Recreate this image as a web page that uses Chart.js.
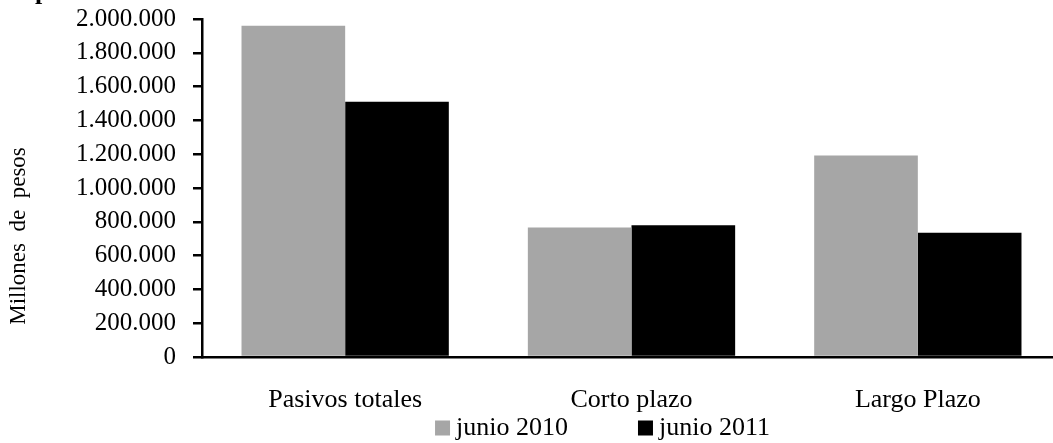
<!DOCTYPE html>
<html><head><meta charset="utf-8">
<script src="https://cdn.jsdelivr.net/npm/chart.js@4"></script>
<style>html,body{margin:0;padding:0;overflow:hidden;background:#fff;}#wrap{width:1062px;height:443px;position:relative}</style>
</head><body><div id="wrap"><canvas id="c" width="1062" height="443"></canvas></div>
<script>
const categories = ['Pasivos totales', 'Corto plazo', 'Largo Plazo'];
const seriesLabels = ['junio 2010', 'junio 2011'];
const junio2010 = [1960000, 767000, 1192000];
const junio2011 = [1510000, 779000, 735000];
const yMax = 2000000;
const yStep = 200000;
const yTitle = 'Millones  de  pesos';
const cutTitle = 'p';

const FONT = "'Liberation Serif','Times New Roman',serif";
const fmt = v => String(v).replace(/\B(?=(\d{3})+(?!\d))/g, '.');

const customText = {
  id: 'customText',
  afterDraw(chart) {
    const ctx = chart.ctx, a = chart.chartArea;
    ctx.save();
    ctx.fillStyle = '#000';
    ctx.font = '23px ' + FONT;
    ctx.translate(19, (a.top + a.bottom) / 2 + 48);
    ctx.rotate(-Math.PI / 2);
    ctx.textAlign = 'center';
    ctx.textBaseline = 'middle';
    ctx.fillText(yTitle, 0, 0);
    ctx.restore();
    ctx.save();
    ctx.fillStyle = '#000';
    ctx.font = 'bold 26px ' + FONT;
    ctx.textBaseline = 'alphabetic';
    ctx.fillText(cutTitle, 35, -1);
    ctx.restore();
  }
};
const legendPlace = {
  id: 'legendPlace',
  afterLayout(chart) {
    const lg = chart.legend; if (!lg) return;
    const pad = lg.options.labels.padding;
    lg.top = 415 - pad; lg.bottom = chart.height;
    const shift = 606 - (lg.left + lg.right) / 2;
    lg.left += shift; lg.right += shift;
  }
};

new Chart(document.getElementById('c'), {
  type: 'bar',
  data: {
    labels: categories,
    datasets: [
      { label: seriesLabels[0], data: junio2010, backgroundColor: '#a6a6a6', borderWidth: 0 },
      { label: seriesLabels[1], data: junio2011, backgroundColor: '#000000', borderWidth: 0 }
    ]
  },
  options: {
    responsive: false,
    animation: false,
    devicePixelRatio: 1,
    layout: { padding: { top: 19, right: 1, left: 0, bottom: 0 } },
    datasets: { bar: { categoryPercentage: 0.724, barPercentage: 1.0 } },
    plugins: {
      tooltip: { enabled: false },
      title: { display: false },
      legend: {
        position: 'bottom',
        maxHeight: 1,
        labels: { color: '#000', font: { family: FONT, size: 26 }, usePointStyle: true, pointStyle: 'rect', boxWidth: 1, boxHeight: 15, padding: 77 }
      }
    },
    scales: {
      x: {
        afterFit(s) { s.height = 85; },
        grid: { display: false },
        border: { display: true, color: '#000', width: 2.5 },
        ticks: { color: '#000', font: { family: FONT, size: 26 }, padding: 20, maxRotation: 0 }
      },
      y: {
        min: 0, max: yMax,
        afterFit(s) { s.width = 202; s.paddingTop = 0; s.paddingBottom = 0; },
        grid: { drawOnChartArea: false, drawTicks: true, tickLength: 9, color: '#000', lineWidth: 2.5 },
        border: { display: true, color: '#000', width: 2.5 },
        ticks: { stepSize: yStep, autoSkip: false, color: '#000', font: { family: FONT, size: 25 }, padding: 17, callback: v => fmt(v) }
      }
    }
  },
  plugins: [customText, legendPlace]
});
</script></body></html>
